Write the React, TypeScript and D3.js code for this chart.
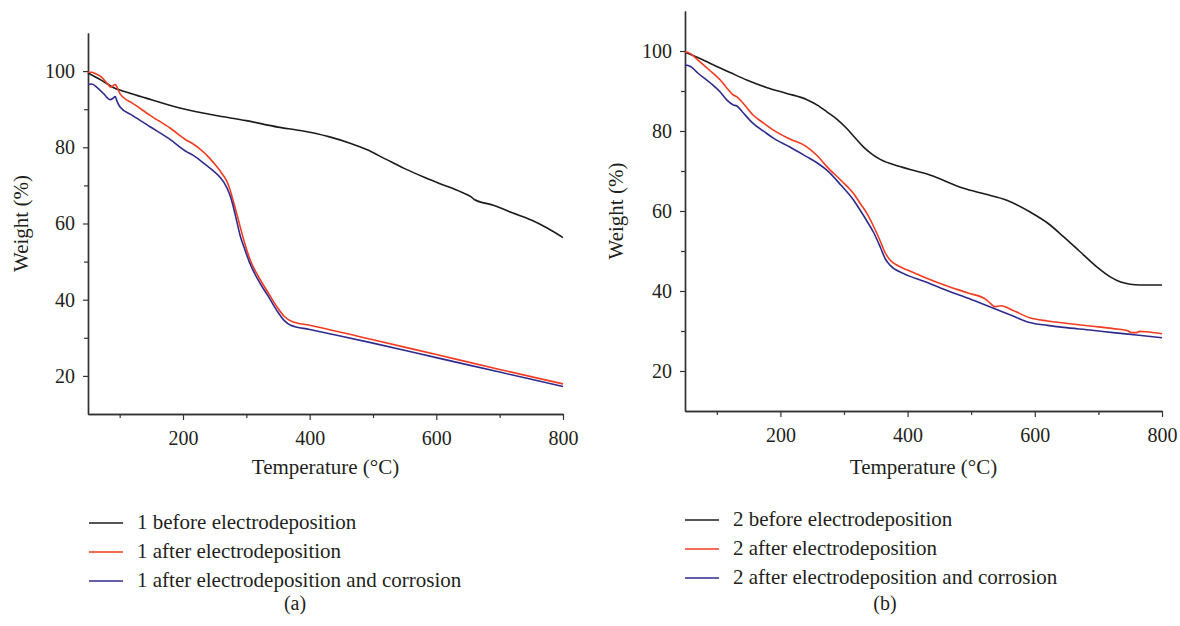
import * as d3 from 'd3';
import React, { useRef, useEffect } from 'react';

// tick values shared by both panels
const xMajor = [200, 400, 600, 800];
const xMinor = [100, 300, 500, 700];
const yMajor = [20, 40, 60, 80, 100];
const yMinor = [30, 50, 70, 90];

const colors = ['#1c1c1c', '#f43a1f', '#2e2b8e'];

const labelsA = ['1 before electrodeposition', '1 after electrodeposition', '1 after electrodeposition and corrosion'];
const labelsB = ['2 before electrodeposition', '2 after electrodeposition', '2 after electrodeposition and corrosion'];

// panel (a), [temperature, weight]
const beforeA = [[50, 99.5], [70, 97.7], [90, 95.7], [120, 94], [150, 92.5], [200, 90.1], [250, 88.4], [300, 87], [350, 85.3], [385, 84.4], [430, 82.8], [465, 81], [490, 79.4], [520, 76.9], [550, 74.4], [580, 72.2], [610, 70.2], [640, 68.2], [655, 67], [660, 66.3], [690, 64.8], [720, 62.8], [750, 60.9], [775, 58.8], [800, 56.3]];
const afterA = [[50, 99.7], [56, 99.7], [62, 99.3], [70, 98.6], [80, 96.8], [86, 95.8], [90, 96.2], [93, 96.5], [96, 95.7], [100, 94.2], [105, 93.2], [120, 91.6], [148, 88.4], [180, 85], [206, 81.8], [215, 81], [227, 79.5], [240, 77.5], [253, 75], [262, 73], [269, 71.2], [275, 68.5], [280, 65.5], [285, 62.5], [290, 59.3], [298, 54.5], [306, 50.5], [321, 45.5], [335, 41.7], [348, 38.2], [360, 35.6], [372, 34.3], [400, 33.3], [500, 29.5], [600, 25.6], [700, 21.7], [800, 17.9]];
const corrodedA = [[50, 96.5], [56, 96.6], [65, 95.6], [75, 94], [85, 92.5], [89, 92.8], [93, 93.3], [96, 92], [101, 90.5], [120, 88.4], [148, 85.4], [180, 82], [206, 78.8], [215, 78], [230, 76.2], [245, 74.2], [258, 72.2], [269, 69.5], [275, 67], [280, 64], [285, 60.5], [290, 57], [298, 53], [305, 49.8], [321, 44.5], [335, 40.8], [348, 37.2], [360, 34.5], [370, 33.3], [400, 32.2], [500, 28.6], [600, 24.8], [700, 21], [800, 17.2]];

// panel (b)
const beforeB = [[50, 99.7], [70, 98.4], [95, 96.5], [120, 94.7], [147, 92.75], [178, 90.9], [210, 89.4], [241, 87.9], [260, 86.3], [273, 84.8], [290, 82.8], [304, 80.7], [318, 78.2], [330, 76.1], [345, 74.1], [357, 72.9], [388, 71.1], [435, 69], [488, 65.7], [520, 64.3], [556, 62.7], [592, 59.8], [620, 57], [645, 53.6], [670, 50], [697, 46.1], [720, 43.4], [734, 42.3], [750, 41.7], [765, 41.5], [800, 41.5]];
const afterB = [[50, 99.8], [58, 99.4], [70, 97.8], [90, 95], [105, 92.8], [116, 90.7], [126, 89], [131, 88.6], [140, 87.2], [157, 84], [175, 81.8], [189, 80.2], [215, 78], [241, 76.1], [258, 73.8], [273, 71.1], [295, 67.7], [315, 64.4], [325, 62], [336, 59.4], [347, 56], [357, 52.5], [365, 49.5], [372, 47.8], [385, 46.3], [399, 45.3], [430, 43.2], [461, 41.3], [495, 39.5], [524, 37.8], [531, 36.8], [537, 36.1], [547, 36.3], [565, 35.2], [592, 33.3], [620, 32.5], [645, 32], [690, 31.2], [723, 30.6], [745, 30.1], [752, 29.6], [760, 29.6], [765, 29.9], [775, 29.8], [800, 29.3]];
const corrodedB = [[50, 96.5], [58, 96.2], [70, 94.5], [90, 92], [105, 89.8], [116, 87.7], [126, 86.5], [131, 86.3], [140, 84.8], [157, 81.9], [175, 79.8], [189, 78.2], [215, 76], [241, 73.6], [258, 72], [273, 70.2], [295, 66.5], [315, 62.75], [325, 60.3], [336, 57.5], [347, 54.5], [357, 51], [365, 48], [372, 46.5], [393, 44.4], [430, 42.2], [461, 40.2], [500, 37.9], [540, 35.4], [565, 33.8], [592, 32.1], [620, 31.4], [645, 30.9], [690, 30.2], [723, 29.6], [760, 29], [800, 28.3]];

const font = 'Liberation Serif';
const ink = '#231f20';

const App = () => {
  const ref = useRef<SVGSVGElement>(null);

  const drawPanel = (svg, p) => {
    const g = svg.append('g').attr('font-family', font);
    const x = d3.scaleLinear().domain([50, 800]).range([p.left, p.right]);
    const y = d3.scaleLinear().domain([10, 110]).range([p.bottom, p.top]);

    const styleAxis = (sel) => {
      sel.attr('font-family', font).attr('font-size', 20);
      sel.select('.domain').attr('stroke', '#333').attr('stroke-width', 1.4);
      sel.selectAll('line').attr('stroke', '#333').attr('stroke-width', 1.2);
      sel.selectAll('text').attr('fill', ink);
    };

    g.append('g')
      .attr('transform', `translate(0,${p.bottom})`)
      .call(d3.axisBottom(x).tickValues(xMinor).tickSize(4).tickSizeOuter(0).tickFormat(() => ''))
      .call(styleAxis);
    g.append('g')
      .attr('transform', `translate(0,${p.bottom})`)
      .call(d3.axisBottom(x).tickValues(xMajor).tickSize(6).tickSizeOuter(0).tickPadding(11))
      .call(styleAxis);
    g.append('g')
      .attr('transform', `translate(${p.left},0)`)
      .call(d3.axisLeft(y).tickValues(yMinor).tickSize(4).tickSizeOuter(0).tickFormat(() => ''))
      .call(styleAxis);
    g.append('g')
      .attr('transform', `translate(${p.left},0)`)
      .call(d3.axisLeft(y).tickValues(yMajor).tickSize(5).tickSizeOuter(0).tickPadding(8))
      .call(styleAxis);

    const line = d3.line()
      .x((d) => x(d[0]))
      .y((d) => y(d[1]))
      .curve(d3.curveMonotoneX);

    p.series.forEach((s, i) => {
      g.append('path')
        .datum(s)
        .attr('fill', 'none')
        .attr('stroke', colors[i])
        .attr('stroke-width', 1.6)
        .attr('stroke-linejoin', 'round')
        .attr('d', line);
    });

    g.append('text')
      .attr('x', (p.left + p.right) / 2)
      .attr('y', 474)
      .attr('text-anchor', 'middle')
      .attr('fill', ink)
      .attr('font-size', 21)
      .text('Temperature (°C)');

    g.append('text')
      .attr('transform', `translate(${p.yTitleX},${(p.top + p.bottom) / 2}) rotate(-90)`)
      .attr('text-anchor', 'middle')
      .attr('fill', ink)
      .attr('font-size', 21)
      .text('Weight (%)');

    const legend = g.append('g').attr('transform', `translate(${p.legendX},${p.legendY})`);
    p.labels.forEach((label, i) => {
      legend.append('line')
        .attr('x1', 0).attr('x2', 34)
        .attr('y1', i * 29).attr('y2', i * 29)
        .attr('stroke', colors[i])
        .attr('stroke-width', 1.4);
      legend.append('text')
        .attr('x', 48)
        .attr('y', i * 29)
        .attr('dy', '0.3em')
        .attr('fill', ink)
        .attr('font-size', 21)
        .text(label);
    });

    g.append('text')
      .attr('x', p.tagX)
      .attr('y', 610)
      .attr('text-anchor', 'middle')
      .attr('fill', ink)
      .attr('font-size', 20)
      .text(p.tag);
  };

  useEffect(() => {
    const svg = d3.select(ref.current);
    svg.selectAll('*').remove();
    drawPanel(svg, {
      left: 88, right: 563, top: 33, bottom: 414,
      yTitleX: 28, legendX: 89, legendY: 523, tagX: 295, tag: '(a)',
      series: [beforeA, afterA, corrodedA], labels: labelsA,
    });
    drawPanel(svg, {
      left: 685, right: 1162, top: 11, bottom: 411,
      yTitleX: 623, legendX: 685, legendY: 520, tagX: 885, tag: '(b)',
      series: [beforeB, afterB, corrodedB], labels: labelsB,
    });
  }, []);

  return (
    <svg
      ref={ref}
      width={1180}
      height={626}
      style={{ position: 'absolute', left: 0, top: 0, background: '#fff' }}
    />
  );
};

export default App;
